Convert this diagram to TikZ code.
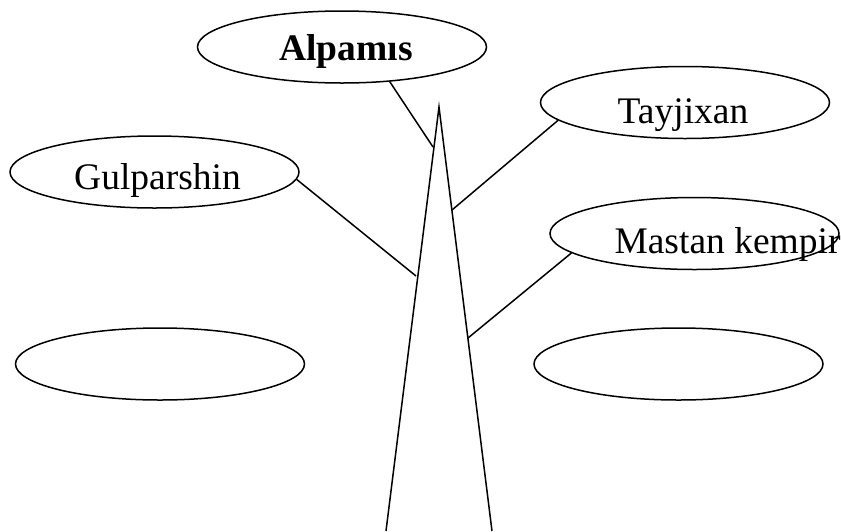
\documentclass[tikz,border=0pt]{standalone}
\usepackage{fontspec}
\setmainfont{Liberation Serif}
\usetikzlibrary{shapes}
\tikzstyle{hero}=[ellipse, draw=black, line width=1.500, minimum width=289, minimum height=72, inner sep=0]
\tikzstyle{heroname}=[anchor=base, font=\fontsize{37.5}{44}\selectfont]
\tikzstyle{leadname}=[anchor=base, font=\fontsize{37.5}{44}\selectfont\bfseries]
\tikzstyle{branch}=[-, draw=black, line width=1.500]
\pgfdeclarelayer{edgelayer}
\pgfdeclarelayer{nodelayer}
\pgfsetlayers{edgelayer,nodelayer,main}
\begin{document}
\begin{tikzpicture}[x=10pt, y=-10pt]
            \useasboundingbox (0, 0) rectangle (84.1, 53.1);
            \begin{pgfonlayer}{nodelayer}
                \node [style=hero, label={[style=leadname, xshift=4, yshift=-4]center:Alpamıs}] (alpamis) at (34.2, 4.7) {};
                \node [style=hero, label={[style=heroname, xshift=-2, yshift=-12.5]center:Tayjixan}] (tayjixan) at (68.5, 10.25) {};
                \node [style=hero, label={[style=heroname, xshift=3, yshift=-8]center:Gulparshin}] (gulparshin) at (15.45, 17.2) {};
                \node [style=hero, label={[style=heroname, xshift=33, yshift=-10.5]center:Mastan kempir}] (mastan) at (69.45, 23.35) {};
                \node [style=hero] (emptyL) at (16.0, 36.4) {};
                \node [style=hero] (emptyR) at (67.85, 36.4) {};

                \coordinate (apex) at (43.9, 10.7);
                \coordinate (baseL) at (38.6, 53.1);
                \coordinate (baseR) at (49.2, 53.1);
                \coordinate (A) at (43.3, 14.7);
                \coordinate (B) at (45.2, 21.0);
                \coordinate (C) at (41.6, 27.6);
                \coordinate (D) at (46.8, 33.8);
            \end{pgfonlayer}
            \begin{pgfonlayer}{edgelayer}
                \draw [style=branch] (baseL) -- (apex) -- (baseR);

                \draw [style=branch] (alpamis.-36) to (A);
                \draw [style=branch] (tayjixan.188) to (B);
                \draw [style=branch] (gulparshin.-3) to (C);
                \draw [style=branch] (mastan.189) to (D);
            \end{pgfonlayer}
        \end{tikzpicture}
\end{document}
